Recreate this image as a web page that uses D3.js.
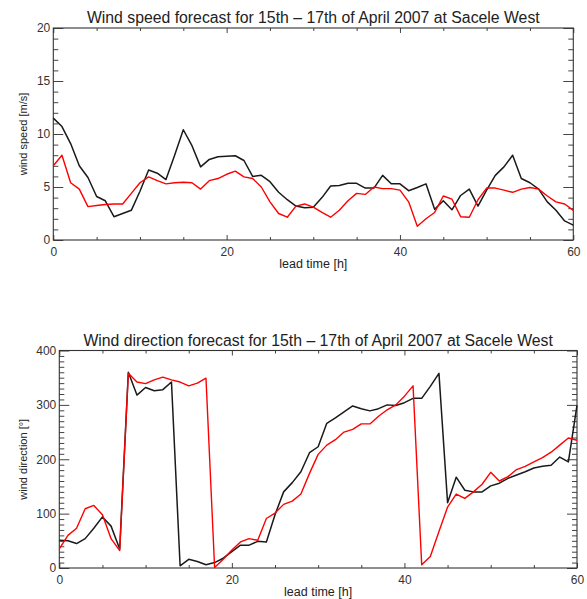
<!DOCTYPE html>
<html>
<head>
<meta charset="utf-8">
<script src="https://cdn.jsdelivr.net/npm/d3@7"></script>
<style>
  html, body { margin: 0; padding: 0; background: #fff; }
  svg { display: block; font-family: "Liberation Sans", Arial, Helvetica, sans-serif; }
  .tick text { fill: #333; }
</style>
</head>
<body>
<svg id="chart" width="587" height="599"></svg>
<script>
// ---- data ----
const leadTime = [0,1,2,3,4,5,6,7,8,9,10,11,12,13,14,15,16,17,18,19,20,21,22,23,24,25,26,27,28,29,30,
  31,32,33,34,35,36,37,38,39,40,41,42,43,44,45,46,47,48,49,50,51,52,53,54,55,56,57,58,59,60];

const speedBlack = [11.5,10.7,9.1,7.0,5.9,4.1,3.7,2.2,2.5,2.8,4.6,6.6,6.3,5.7,8.0,10.4,8.9,6.9,7.6,7.85,7.9,
  7.95,7.5,6.0,6.1,5.5,4.5,3.8,3.2,3.05,3.1,4.0,5.1,5.15,5.35,5.35,4.9,4.9,6.1,5.3,5.3,
  4.65,4.95,5.3,2.9,3.7,2.85,4.2,4.8,3.2,4.7,6.1,6.9,8.0,5.8,5.4,4.8,3.6,2.8,1.8,1.4];

const speedRed = [7.0,8.0,5.4,4.8,3.15,3.25,3.35,3.4,3.4,4.4,5.4,5.95,5.6,5.3,5.4,5.45,5.4,4.8,5.6,5.8,6.2,
  6.5,5.95,5.8,5.0,3.6,2.5,2.15,3.2,3.4,3.1,2.6,2.15,2.8,3.7,4.4,4.3,5.0,4.85,4.85,4.7,
  3.6,1.3,2.0,2.6,4.15,3.85,2.2,2.15,3.8,4.9,4.9,4.7,4.5,4.8,4.95,4.8,4.15,3.6,3.4,2.8];

const dirBlack = [51,50,45,54,73,94,77,35,360,318,332,326,328,342,4,16,12,6,10,18,30,
  42,42,49,48,98,140,157,177,212,223,266,276,287,298,293,289,293,300,299,304,
  312,312,334,358,120,167,143,140,140,151,156,165,171,177,184,187,189,204,195,299];

const dirRed = [35,60,73,109,115,98,54,32,358,342,339,346,351,346,342,335,340,349,1,16,33,
  48,54,51,91,101,117,123,136,174,209,226,236,250,255,265,265,279,291,300,316,
  335,6,21,67,112,136,128,140,154,176,160,168,181,187,195,203,213,226,239,235];

const xMajorTicks = [0, 20, 40, 60];
const xMinorTicks = [5, 10, 15, 25, 30, 35, 45, 50, 55];
const speedMajorTicks = [0, 5, 10, 15, 20];
const speedMinorTicks = [1,2,3,4,6,7,8,9,11,12,13,14,16,17,18,19];
const dirMajorTicks = [0, 100, 200, 300, 400];
const dirMinorTicks = [10,20,30,40,50,60,70,80,90,110,120,130,140,150,160,170,180,190,
  210,220,230,240,250,260,270,280,290,310,320,330,340,350,360,370,380,390];

const titleSpeed = "Wind speed forecast for 15th \u2013 17th of April 2007 at Sacele West";
const titleDir = "Wind direction forecast for 15th \u2013 17th of April 2007 at Sacele West";
const xLabel = "lead time [h]";
const ySpeedLabel = "wind speed [m/s]";
const yDirLabel = "wind direction [\u00b0]";

const svg = d3.select("#chart");

function panel(cfg) {
  const {left, right, top, bottom, yDomain, yMajor, yMinor, black, red, title, titleY, yLabel, yLabelX} = cfg;
  const x = d3.scaleLinear().domain([0, 60]).range([left, right]);
  const y = d3.scaleLinear().domain(yDomain).range([bottom, top]);
  const g = svg.append("g");

  const fmt = d3.format("d");
  function styleAxis(sel) {
    sel.select(".domain").remove();
    sel.selectAll(".tick line").attr("stroke", "#444").attr("stroke-width", 1);
    sel.selectAll(".tick text").attr("font-size", "12px").attr("fill", "#333");
  }
  // left
  g.append("g").attr("transform", `translate(${left},0)`)
    .call(d3.axisLeft(y).tickValues(yMajor).tickSize(-10).tickPadding(3).tickFormat(fmt)).call(styleAxis);
  g.append("g").attr("transform", `translate(${left},0)`)
    .call(d3.axisLeft(y).tickValues(yMinor).tickSize(-5).tickFormat("")).call(styleAxis);
  // right
  g.append("g").attr("transform", `translate(${right},0)`)
    .call(d3.axisRight(y).tickValues(yMajor).tickSize(-10).tickFormat("")).call(styleAxis);
  g.append("g").attr("transform", `translate(${right},0)`)
    .call(d3.axisRight(y).tickValues(yMinor).tickSize(-5).tickFormat("")).call(styleAxis);
  // bottom
  g.append("g").attr("transform", `translate(0,${bottom})`)
    .call(d3.axisBottom(x).tickValues(xMajorTicks).tickSize(-5).tickPadding(7).tickFormat(fmt)).call(styleAxis);
  g.append("g").attr("transform", `translate(0,${bottom})`)
    .call(d3.axisBottom(x).tickValues(xMinorTicks).tickSize(-3).tickFormat("")).call(styleAxis);
  // top
  g.append("g").attr("transform", `translate(0,${top})`)
    .call(d3.axisTop(x).tickValues(xMajorTicks).tickSize(-5).tickFormat("")).call(styleAxis);
  g.append("g").attr("transform", `translate(0,${top})`)
    .call(d3.axisTop(x).tickValues(xMinorTicks).tickSize(-3).tickFormat("")).call(styleAxis);

  g.append("rect").attr("x", left).attr("y", top).attr("width", right - left).attr("height", bottom - top)
    .attr("fill", "none").attr("stroke", "#333").attr("stroke-width", 1.1);

  const line = (vals) => d3.line().x((d, i) => x(leadTime[i])).y(d => y(d))(vals);
  g.append("path").attr("d", line(black)).attr("fill", "none").attr("stroke", "#1a1a1a")
    .attr("stroke-width", 1.5).attr("stroke-linejoin", "round");
  g.append("path").attr("d", line(red)).attr("fill", "none").attr("stroke", "#ff0000")
    .attr("stroke-width", 1.4).attr("stroke-linejoin", "round");

  g.append("text").attr("x", (left + right) / 2).attr("y", titleY).attr("text-anchor", "middle")
    .attr("font-size", "15.8px").attr("fill", "#222").text(title);
  g.append("text").attr("x", (left + right) / 2).attr("y", bottom + 28).attr("text-anchor", "middle")
    .attr("font-size", "12.5px").attr("fill", "#222").text(xLabel);
  g.append("text").attr("transform", `translate(${yLabelX},${(top + bottom) / 2}) rotate(-90)`)
    .attr("text-anchor", "middle").attr("font-size", "11px").attr("fill", "#222").text(yLabel);
}

panel({left: 53.3, right: 573.3, top: 28, bottom: 240, yDomain: [0, 20],
  yMajor: speedMajorTicks, yMinor: speedMinorTicks, black: speedBlack, red: speedRed,
  title: titleSpeed, titleY: 23, yLabel: ySpeedLabel, yLabelX: 27});

panel({left: 59.3, right: 577, top: 350.5, bottom: 568, yDomain: [0, 400],
  yMajor: dirMajorTicks, yMinor: dirMinorTicks, black: dirBlack, red: dirRed,
  title: titleDir, titleY: 345.5, yLabel: yDirLabel, yLabelX: 27});
</script>
</body>
</html>
